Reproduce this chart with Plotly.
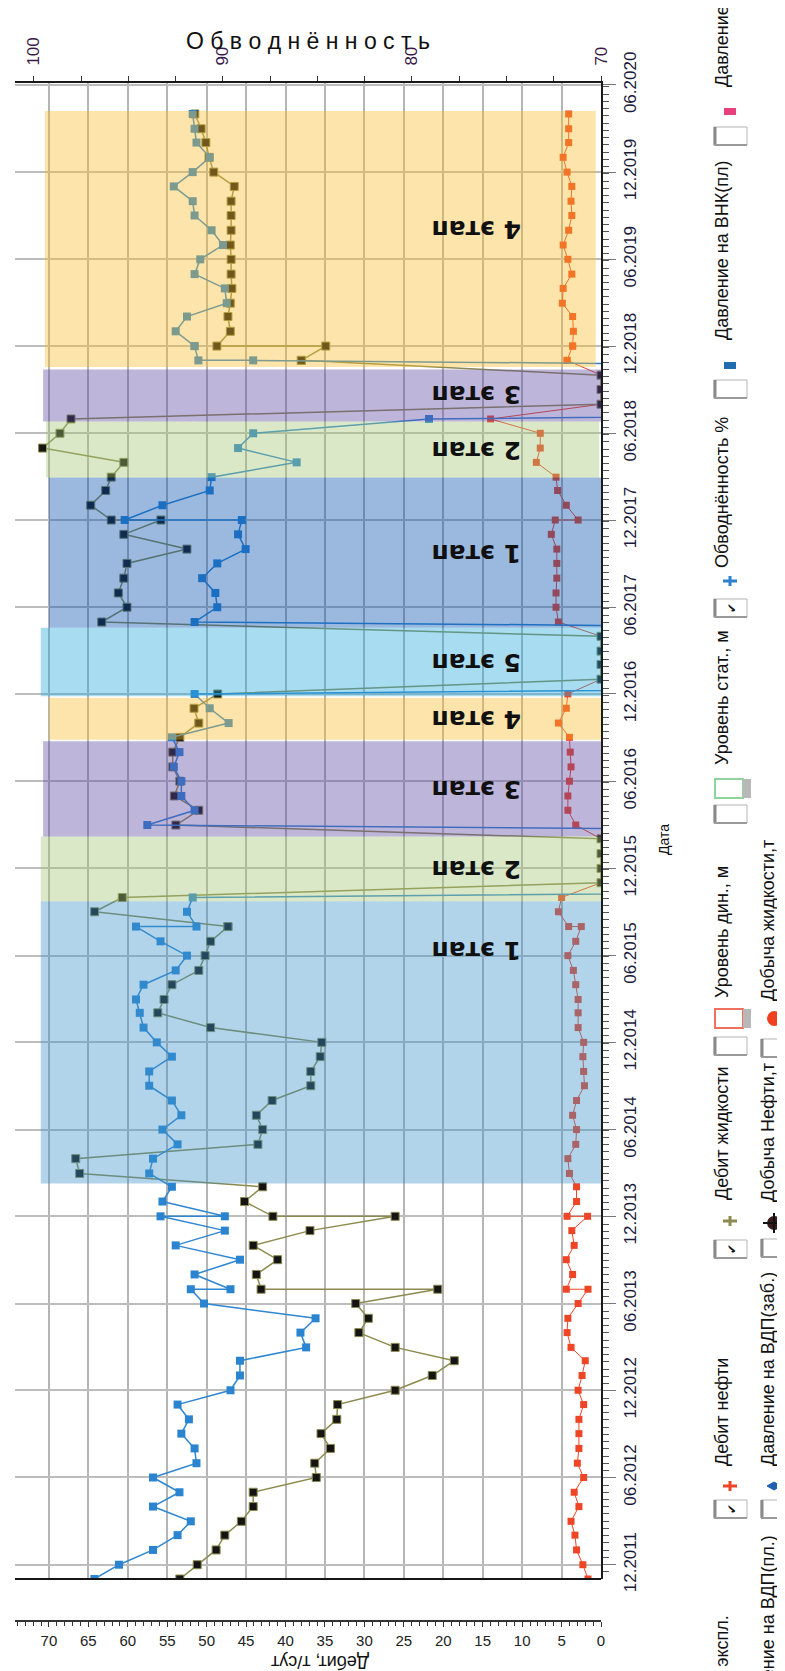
import plotly.graph_objects as go

# ---------------- data ----------------
dates = [
    "2011-11-01", "2011-12-01",
    "2012-01-01", "2012-02-01", "2012-03-01", "2012-04-01", "2012-05-01", "2012-06-01",
    "2012-07-01", "2012-08-01", "2012-09-01", "2012-10-01", "2012-11-01", "2012-12-01",
    "2013-01-01", "2013-02-01", "2013-03-01", "2013-04-01", "2013-05-01", "2013-06-01",
    "2013-07-01", "2013-07-01", "2013-08-01", "2013-09-01", "2013-10-01", "2013-11-01",
    "2013-12-01", "2013-12-01",
    "2014-01-01", "2014-02-01", "2014-03-01", "2014-04-01", "2014-05-01", "2014-06-01",
    "2014-07-01", "2014-08-01", "2014-09-01", "2014-10-01", "2014-11-01", "2014-12-01",
    "2015-01-01", "2015-02-01", "2015-03-01", "2015-04-01", "2015-05-01", "2015-06-01",
    "2015-07-01", "2015-08-01", "2015-08-01", "2015-09-01", "2015-10-01", "2015-11-01",
    "2015-12-01",
    "2016-01-01", "2016-02-01", "2016-03-01", "2016-04-01", "2016-05-01", "2016-06-01",
    "2016-07-01", "2016-08-01", "2016-09-01", "2016-10-01", "2016-11-01", "2016-12-01",
    "2017-01-01", "2017-02-01", "2017-03-01", "2017-04-01", "2017-05-01", "2017-06-01",
    "2017-07-01", "2017-08-01", "2017-09-01", "2017-10-01", "2017-11-01", "2017-12-01",
    "2017-12-01",
    "2018-01-01", "2018-02-01", "2018-03-01", "2018-04-01", "2018-05-01", "2018-06-01",
    "2018-07-01", "2018-08-01", "2018-09-01", "2018-10-01", "2018-11-01", "2018-11-01",
    "2018-12-01", "2018-12-01",
    "2019-01-01", "2019-02-01", "2019-03-01", "2019-04-01", "2019-05-01", "2019-06-01",
    "2019-07-01", "2019-08-01", "2019-09-01", "2019-10-01", "2019-11-01", "2019-12-01",
    "2020-01-01", "2020-02-01", "2020-03-01", "2020-04-01",
]

# Дебит жидкости, т/сут
liquid_rate = [
    53.4, 51.2, 48.8, 47.7, 45.6, 44.1, 44.1, 36.1, 36.3, 34.3, 35.5, 33.5, 33.4, 26.1,
    21.4, 18.6, 26.1, 30.7, 29.5, 31.1, 20.7, 43.1, 43.7, 41.0, 44.1, 36.9, 26.1, 41.6,
    45.2, 42.9, 66.1, 66.6, 43.5, 42.9, 43.7, 41.7, 36.8, 36.8, 35.6, 35.4,
    49.5, 56.2, 55.4, 54.4, 51.0, 50.2, 49.5, 47.3, 47.3, 64.2, 60.7, 0, 0,
    0, 0, 53.9, 51.0, 54.1, 53.4, 54.3, 54.3, 53.4, 51.0, 51.6, 48.6,
    0, 0, 0, 0, 63.3, 60.1, 61.2, 60.5, 60.1, 52.5, 60.5, 55.8, 62.1,
    64.7, 62.8, 62.1, 60.5, 70.8, 68.6, 67.2, 0, 0, 0, 38.0, 38.0, 34.9, 48.7,
    47.0, 47.3, 47.0, 46.8, 46.9, 46.9, 47.0, 46.9, 46.9, 46.9, 46.5, 49.1,
    49.7, 50.1, 50.7, 51.5,
]

# Обводнённость, %
water_cut = [
    96.8, 95.5, 93.7, 92.4, 91.7, 93.7, 92.3, 93.7, 91.4, 91.5, 92.2, 91.8, 92.4, 89.6,
    89.1, 89.1, 85.6, 85.9, 85.1, 91.0, 91.7, 89.6, 91.5, 89.1, 92.5, 89.9, 93.3, 89.9,
    93.2, 92.7, 93.9, 93.7, 92.4, 93.2, 92.2, 92.7, 93.9, 93.9, 92.7, 93.5,
    94.2, 94.4, 94.6, 94.2, 92.5, 91.9, 93.3, 94.6, 91.4, 91.9, 91.6, 0, 0,
    0, 0, 94.0, 91.5, 92.2, 92.2, 92.6, 92.3, 92.7, 89.7, 90.7, 91.5,
    0, 0, 0, 0, 91.5, 90.3, 90.4, 91.1, 90.3, 88.8, 89.2, 89.0, 95.2,
    93.2, 90.7, 90.6, 86.1, 89.2, 88.4, 79.1, 0, 0, 0, 88.4, 91.3, 91.5, 91.5,
    92.5, 91.9, 89.8, 89.9, 91.5, 91.2, 90.0, 90.6, 91.5, 91.6, 92.6, 91.6,
    90.7, 91.4, 91.5, 91.6,
]

# Дебит нефти, т/сут
oil_rate = [
    1.65, 2.3, 3.1, 3.3, 3.8, 2.8, 3.4, 2.2, 3.0, 2.8, 2.8, 2.8, 2.2, 2.9,
    2.4, 2.0, 3.8, 4.3, 4.2, 2.9, 1.65, 4.4, 3.6, 4.4, 3.4, 3.7, 1.7, 4.3,
    3.1, 3.1, 4.0, 4.2, 3.2, 3.1, 3.6, 3.1, 2.1, 2.2, 2.3, 2.2,
    2.9, 2.9, 2.9, 3.2, 3.5, 4.2, 3.2, 2.5, 4.1, 5.4, 5.0, 0, 0,
    0, 0, 3.2, 4.2, 4.2, 4.0, 3.8, 3.9, 4.0, 5.4, 4.4, 4.2,
    0, 0, 0, 0, 5.4, 5.7, 5.7, 5.6, 5.6, 5.6, 6.3, 5.8, 2.9,
    4.4, 5.5, 5.7, 8.2, 7.7, 7.7, 14.0, 0, 0, 0, 4.3, 4.3, 3.6, 3.6,
    3.5, 3.6, 4.9, 4.8, 3.7, 4.2, 4.8, 4.1, 3.7, 3.8, 3.7, 4.3,
    4.8, 4.1, 4.1, 4.1,
]

assert len(dates) == len(liquid_rate) == len(water_cut) == len(oil_rate)

# Этапы (stages)
stage_names = ["1 этап", "2 этап", "3 этап", "4 этап", "5 этап",
               "1 этап", "2 этап", "3 этап", "4 этап"]
stage_starts = ["2014-02-08", "2015-09-23", "2016-02-06", "2016-08-27", "2016-11-26",
                "2017-04-19", "2018-02-28", "2018-06-26", "2018-10-18"]
stage_ends = ["2015-09-23", "2016-02-06", "2016-08-24", "2016-11-23", "2017-04-19",
              "2018-02-28", "2018-06-26", "2018-10-13", "2020-04-07"]
stage_label_dates = ["2015-06-13", "2015-11-30", "2016-05-16", "2016-10-10", "2017-02-05",
                     "2017-09-23", "2018-04-27", "2018-08-20", "2019-08-04"]
stage_colors = {
    "1a": "rgba(62,147,202,0.40)",
    "1b": "rgba(5,80,172,0.40)",
    "2": "rgba(163,197,117,0.40)",
    "3": "rgba(93,72,163,0.40)",
    "4": "rgba(247,187,42,0.40)",
    "5": "rgba(38,168,218,0.40)",
}
stage_color_keys = ["1a", "2", "3", "4", "5", "1b", "2", "3", "4"]
stage_left = [0.044, 0.044, 0.048, 0.058, 0.044, 0.058, 0.053, 0.048, 0.051]
stage_right = [1.0, 1.0, 1.0, 1.0, 1.0, 1.0, 0.997, 1.0, 0.991]

# ---------------- layout helpers ----------------
W, H = 785, 1671
ML, MR, MT, MB = 7, 192, 75, 58
PW = W - ML - MR
PH = H - MT - MB


def px(x):
    return (x - ML) / PW


def py(y):
    return (H - MB - y) / PH


SANS = "Liberation Sans, Arial, sans-serif"

shapes = []
annotations = []


def rect_px(x0, y0, x1, y1, fill, line_color=None, line_width=0):
    shapes.append(dict(type="rect", xref="paper", yref="paper",
                       x0=px(x0), x1=px(x1), y0=py(y1), y1=py(y0),
                       fillcolor=fill,
                       line=dict(color=line_color or fill, width=line_width)))


def line_px(x0, y0, x1, y1, color, width):
    shapes.append(dict(type="line", xref="paper", yref="paper",
                       x0=px(x0), x1=px(x1), y0=py(y0), y1=py(y1),
                       line=dict(color=color, width=width)))


def ellipse_px(x0, y0, x1, y1, fill):
    shapes.append(dict(type="circle", xref="paper", yref="paper",
                       x0=px(x0), x1=px(x1), y0=py(y1), y1=py(y0),
                       fillcolor=fill, line=dict(color=fill, width=0)))


def text_px(x, y, text, size, color="#111111", angle=-90, family=SANS):
    annotations.append(dict(xref="paper", yref="paper", x=px(x), y=py(y), text=text,
                            showarrow=False, textangle=angle,
                            font=dict(family=family, size=size, color=color),
                            xanchor="center", yanchor="middle"))


def checkbox(x0, x1, yc, checked):
    rect_px(x0, yc - 9, x1, yc + 9, "white", "#b5b5b5", 1)
    line_px(x0 + 1, yc - 9, x0 + 1, yc + 9, "#8a8a8a", 3)
    line_px(x0, yc + 9, x1, yc + 9, "#9a9a9a", 2)
    if checked:
        text_px((x0 + x1) / 2 + 1, yc, "✔", 12, "#111111", -90)


def plus(xc, yc, color):
    line_px(xc - 7, yc, xc + 7, yc, color, 3)
    line_px(xc, yc - 5, xc, yc + 5, color, 3)


# ---------------- figure ----------------
fig = go.Figure()

fig.add_trace(go.Scatter(
    x=oil_rate, y=dates, xaxis="x", yaxis="y", mode="lines+markers",
    name="Дебит нефти",
    line=dict(color="#ee4526", width=1),
    marker=dict(symbol="square", size=7, color="#ee4526"),
))
fig.add_trace(go.Scatter(
    x=liquid_rate, y=dates, xaxis="x", yaxis="y", mode="lines+markers",
    name="Дебит жидкости",
    line=dict(color="#8c8a4e", width=1.5),
    marker=dict(symbol="square", size=8, color="#141414",
                line=dict(color="#8c8a4e", width=1)),
))
fig.add_trace(go.Scatter(
    x=water_cut, y=dates, xaxis="x2", yaxis="y", mode="lines+markers",
    name="Обводнённость %",
    line=dict(color="#2f86d2", width=1.5),
    marker=dict(symbol="square", size=8, color="#2a84d0"),
))

# stage shading (drawn over the curves, semi-transparent)
for i in range(len(stage_names)):
    shapes.append(dict(type="rect", xref="paper", yref="y", layer="above",
                       x0=stage_left[i], x1=stage_right[i],
                       y0=stage_starts[i], y1=stage_ends[i],
                       fillcolor=stage_colors[stage_color_keys[i]],
                       line=dict(width=0)))
    annotations.append(dict(xref="paper", yref="y", x=px(468), y=stage_label_dates[i],
                            text="<b>" + stage_names[i] + "</b>", showarrow=False,
                            textangle=180,
                            font=dict(family="DejaVu Sans, Liberation Sans", size=25,
                                      color="#101010"),
                            xanchor="center", yanchor="middle"))

# bottom border of the data area
line_px(ML, 1571, ML + PW, 1571, "#151515", 2)

# axis titles
text_px(300, 33, "О б в о д н ё н н о с т ь", 23, "#101010", 0)
text_px(312, 1654, "Дебит, т/сут", 18, "#101010", 180)
text_px(656, 832, "Дата", 14, "#101010", -90)

# ---------------- legend (rotated) ----------------
LEG = 18
# column 1
c1_cb = (706, 739)
c1_mk = 722
c1_tx = 714
text_px(c1_tx, 1607 + 60, "Способ экспл.", LEG)
checkbox(*c1_cb, 1501, True)
plus(c1_mk, 1478, "#ee4526")
text_px(c1_tx, 1404, "Дебит нефти", LEG)
checkbox(*c1_cb, 1241, True)
plus(c1_mk, 1213, "#8c8a4e")
text_px(c1_tx, 1125, "Дебит жидкости", LEG)
checkbox(*c1_cb, 1038, False)
rect_px(707, 1001, 735, 1020, "white", "#f07060", 2)
rect_px(735, 1001, 743, 1020, "#b8b8b8")
text_px(c1_tx, 924, "Уровень дин., м", LEG)
checkbox(*c1_cb, 806, False)
rect_px(707, 771, 735, 790, "white", "#8fd49a", 2)
rect_px(735, 771, 743, 790, "#b8b8b8")
text_px(c1_tx, 690, "Уровень стат., м", LEG)
checkbox(*c1_cb, 600, True)
plus(c1_mk, 573, "#2f80cc")
text_px(c1_tx, 485, "Обводнённость %", LEG)
checkbox(*c1_cb, 381, False)
rect_px(716, 354, 728, 361, "#1f6cb0")
text_px(c1_tx, 242, "Давление на ВНК(пл)", LEG)
checkbox(*c1_cb, 128, False)
rect_px(716, 100, 728, 107, "#e8407f")
text_px(c1_tx, 82 - 99, "Давление на ВНК(заб.)", LEG)

# column 2
c2_cb = (753, 786)
c2_mk = 766
c2_tx = 760
text_px(c2_tx, 1527 + 93, "Давление на ВДП(пл.)", LEG)
checkbox(*c2_cb, 1501, False)
shapes.append(dict(type="path", xref="paper", yref="paper",
                   path="M {a},{b} L {c},{d} L {e},{b} L {c},{f} Z".format(
                       a=px(759), b=py(1478), c=px(766), d=py(1474), e=px(773), f=py(1482)),
                   fillcolor="#1f5fb0", line=dict(color="#1f5fb0", width=1)))
text_px(c2_tx, 1361, "Давление на ВДП(заб.)", LEG)
checkbox(*c2_cb, 1240, False)
ellipse_px(759, 1208, 774, 1222, "#3a1c1c")
line_px(755, 1215, 780, 1215, "#111111", 2)
line_px(766, 1205, 766, 1225, "#111111", 2)
text_px(c2_tx, 1125, "Добыча Нефти,т", LEG)
checkbox(*c2_cb, 1040, False)
ellipse_px(759, 1003, 774, 1018, "#f04020")
text_px(c2_tx, 913, "Добыча жидкости,т", LEG)

fig.update_layout(
    width=W, height=H,
    margin=dict(l=ML, r=MR, t=MT, b=MB, pad=0),
    paper_bgcolor="white", plot_bgcolor="white",
    showlegend=False,
    xaxis=dict(
        range=[74.3, 0], anchor="free", position=0, side="bottom",
        tickmode="linear", tick0=0, dtick=5,
        ticks="outside", ticklen=5, tickwidth=1, tickcolor="#333333",
        minor=dict(dtick=1, ticklen=4, ticks="outside", tickcolor="#333333"),
        showgrid=True, gridcolor="#b5b5b5", gridwidth=1.5,
        showline=True, linecolor="#333333", linewidth=1.5,
        zeroline=False,
        tickfont=dict(family=SANS, size=15, color="#222222"),
        ticklabelstandoff=1,
    ),
    xaxis2=dict(
        range=[101.0, 70], overlaying="x", side="top", anchor="y",
        tickvals=[70, 80, 90, 100],
        ticks="outside", ticklen=5, tickcolor="#333333",
        minor=dict(dtick=2.5, tick0=70, ticklen=5, ticks="outside", tickcolor="#333333"),
        tickangle=-90, showgrid=False,
        showline=True, linecolor="#1a1a1a", linewidth=2,
        zeroline=False,
        tickfont=dict(family=SANS, size=17, color="#3a1a4a"),
        ticklabelstandoff=7,
    ),
    yaxis=dict(
        type="date", range=["2011-11-01", "2020-06-05"],
        domain=[42 / PH, 1], side="right",
        tickformat="%m.%Y", dtick="M6", tick0="2011-12-01",
        tickangle=-90,
        ticks="outside", ticklen=13, tickcolor="#777777",
        minor=dict(dtick=15.2 * 86400000, tick0="2011-12-01", ticklen=6,
                   ticks="outside", tickcolor="#555555"),
        showgrid=True, gridcolor="#bdbdbd", gridwidth=1.5,
        showline=True, linecolor="#1a1a1a", linewidth=2,
        zeroline=False,
        tickfont=dict(family=SANS, size=17, color="#1a1a3a"),
        ticklabelstandoff=0,
    ),
    shapes=shapes,
    annotations=annotations,
)

fig.write_html("out.html")
